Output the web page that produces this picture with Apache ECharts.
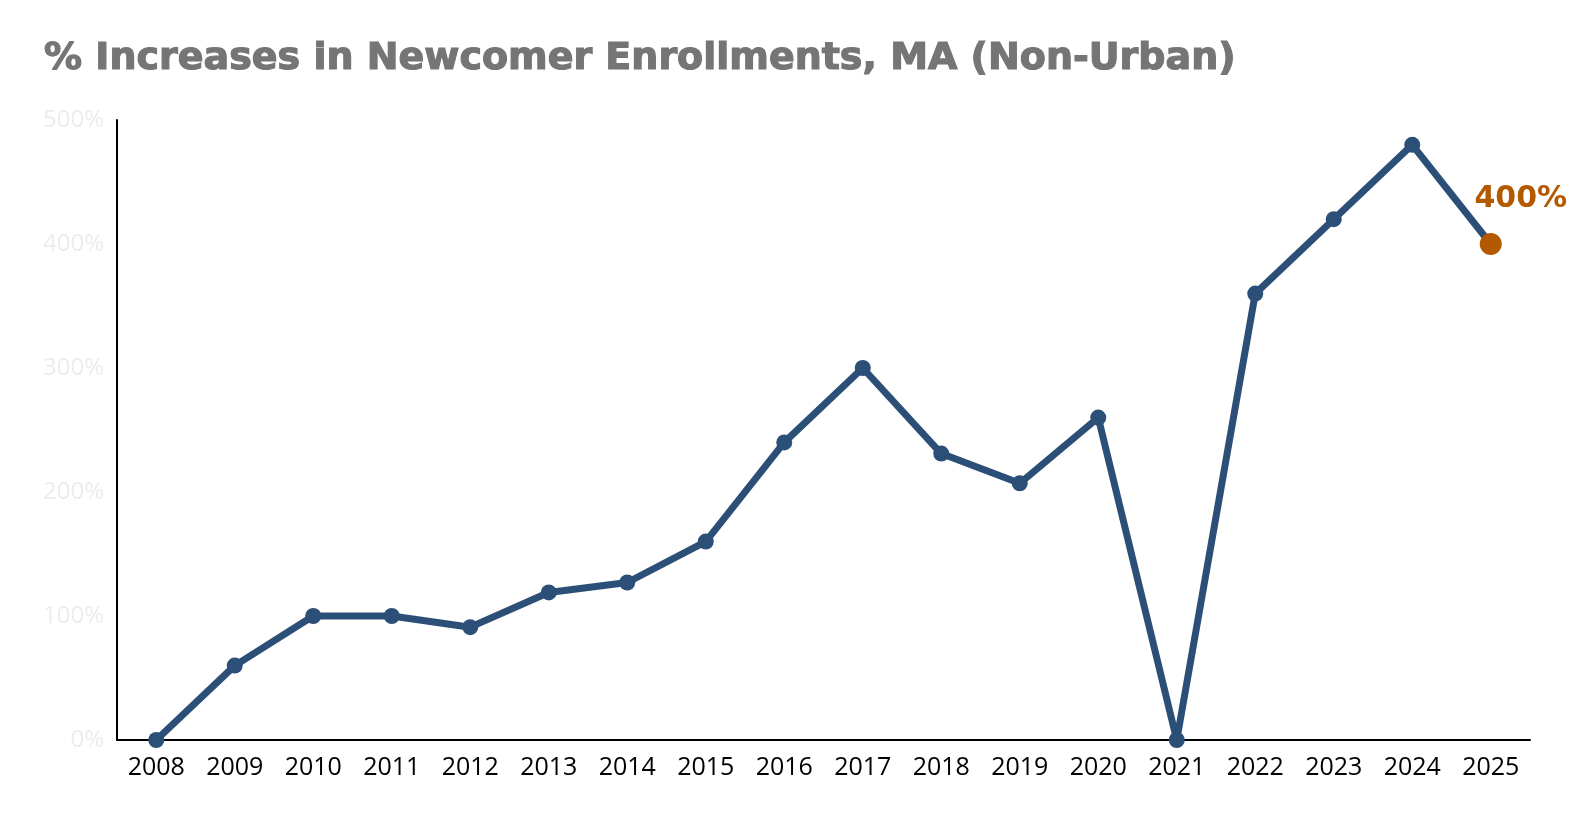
<!DOCTYPE html>
<html>
<head>
<meta charset="utf-8">
<script src="https://cdn.jsdelivr.net/npm/echarts@6/dist/echarts.min.js"></script>
<style>
  html, body { margin: 0; padding: 0; background: #fff; }
  #main { width: 1584px; height: 832px; }
</style>
</head>
<body>
<div id="main"></div>
<script>
// data
var years = ['2008', '2009', '2010', '2011', '2012', '2013', '2014', '2015', '2016',
             '2017', '2018', '2019', '2020', '2021', '2022', '2023', '2024', '2025'];
var increases = [0, 60, 100, 100, 91, 119, 127, 160, 240, 300, 231, 207, 260, 0, 360, 420, 480, 400];
var yTicks = [0, 100, 200, 300, 400, 500];

var myChart = echarts.init(document.getElementById('main'));

var lineColor = '#2c4f78';
var accent = '#b35900';

// last point gets its own style and label
var seriesData = increases.map(function(v, i) {
    if (i === increases.length - 1) {
        return {
            value: v,
            symbolSize: 22,
            itemStyle: { color: accent },
            label: {
                show: true,
                position: 'top',
                offset: [30, -14],
                formatter: v + '%',
                color: accent,
                fontSize: 30,
                fontWeight: 'bold',
                fontFamily: 'DejaVu Sans'
            }
        };
    }
    return v;
});

var option = {
    animation: false,
    backgroundColor: '#fff',
    title: {
        text: '% Increases in Newcomer Enrollments, MA (Non-Urban)',
        left: 39,
        top: 35,
        textStyle: {
            fontFamily: 'DejaVu Sans',
            fontWeight: 'bold',
            fontSize: 38,
            color: '#757575',
            textBorderColor: '#757575',
            textBorderWidth: 1.2
        }
    },
    grid: {
        left: 117,
        right: 54,
        top: 120,
        bottom: 92,
        containLabel: false
    },
    xAxis: {
        type: 'category',
        data: years,
        boundaryGap: true,
        axisLine: { lineStyle: { color: '#000', width: 2 } },
        axisTick: { show: false },
        axisLabel: {
            color: '#000',
            fontSize: 25,
            fontFamily: 'Open Sans',
            margin: 15,
            interval: 0
        }
    },
    yAxis: {
        type: 'value',
        min: yTicks[0],
        max: yTicks[yTicks.length - 1],
        interval: 100,
        axisLine: { show: true, lineStyle: { color: '#000', width: 2 } },
        axisTick: { show: false },
        splitLine: { show: false },
        axisLabel: {
            color: '#ececec',
            fontSize: 24,
            fontFamily: 'Open Sans',
            margin: 13,
            formatter: '{value}%'
        }
    },
    series: [{
        type: 'line',
        data: seriesData,
        symbol: 'circle',
        symbolSize: 16,
        clip: false,
        lineStyle: { color: lineColor, width: 7 },
        itemStyle: { color: lineColor }
    }]
};

myChart.setOption(option);
</script>
</body>
</html>
